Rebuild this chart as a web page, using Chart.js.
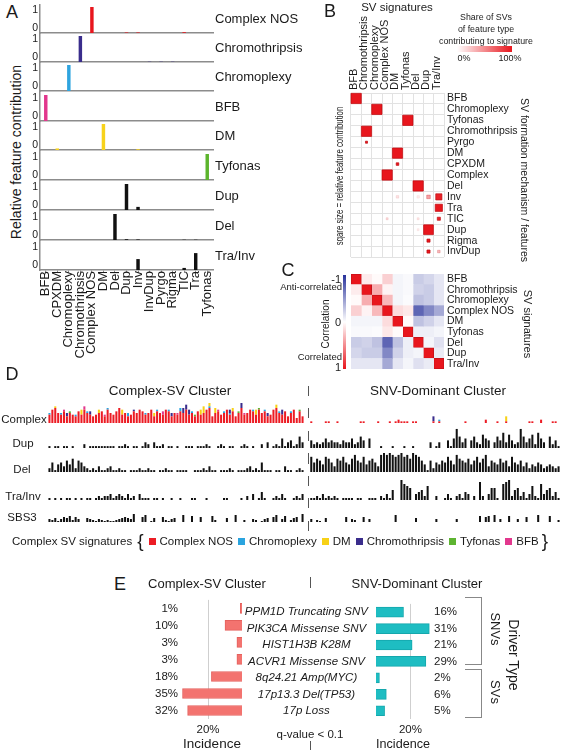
<!DOCTYPE html>
<html lang="en">
<head>
<meta charset="UTF-8">
<title>SV signatures and driver incidence</title>
<style>
  body {
    margin: 0;
    width: 563px;
    height: 750px;
    overflow: hidden;
    position: relative;
    background: #fff;
    color: #1a1a1a;
    font-family: "Liberation Sans", Arial, sans-serif;
  }
  canvas, .t, .box { position: absolute; }
  .t { white-space: nowrap; line-height: 1; z-index: 2; }
  .legend {
    position: absolute;
    display: flex;
    align-items: center;
    font-size: 11.5px;
    white-space: nowrap;
  }
  .legend .sq { width: 7px; height: 7px; display: inline-block; margin: 0 4px 0 5px; }
</style>
</head>
<body>
<script src="https://cdn.jsdelivr.net/npm/chart.js"></script>
<script>
// ---------- panel A: relative feature contribution ----------
var catsA = ['BFB', 'CPXDM', 'Chromoplexy', 'Chromothripsis', 'Complex NOS', 'DM', 'Del', 'Dup',
             'Inv', 'InvDup', 'Pyrgo', 'Rigma', 'TIC', 'Tra', 'Tyfonas'];
var rowsA = ['Complex NOS', 'Chromothripsis', 'Chromoplexy', 'BFB', 'DM', 'Tyfonas', 'Dup', 'Del', 'Tra/Inv'];
var aComplexNOS    = [0, 0, 0, 0, 1, 0, 0, 0.02, 0.02, 0, 0, 0, 0.03, 0, 0];
var aChromothripsis = [0, 0, 0, 1, 0, 0, 0, 0, 0, 0.01, 0.01, 0.01, 0, 0, 0];
var aChromoplexy   = [0, 0, 1, 0, 0, 0, 0, 0, 0, 0, 0, 0, 0, 0, 0];
var aBFB           = [1, 0, 0, 0, 0, 0, 0, 0, 0, 0, 0, 0, 0, 0, 0];
var aDM            = [0, 0.06, 0, 0, 0, 1, 0, 0, 0.03, 0, 0, 0, 0, 0, 0];
var aTyfonas       = [0, 0, 0, 0, 0, 0, 0, 0, 0, 0, 0, 0, 0, 0, 1];
var aDup           = [0, 0, 0, 0, 0, 0, 0, 1, 0.12, 0, 0, 0, 0, 0, 0];
var aDel           = [0, 0, 0, 0, 0, 0, 1, 0.03, 0.02, 0, 0, 0, 0.01, 0.01, 0];
var aTraInv        = [0, 0, 0, 0, 0, 0, 0, 0, 0.42, 0, 0, 0, 0.08, 0.65, 0];
// where the "0" and "1" tick labels sit on each small axis
var aTickValues = [0.22, 0.92];
var aTickLabels = ['0', '1'];

// ---------- panel B: signature definitions ----------
var bCols = ['BFB', 'Chromothripsis', 'Chromoplexy', 'Complex NOS', 'DM', 'Tyfonas', 'Del', 'Dup', 'Tra/Inv'];
var bRows = ['BFB', 'Chromoplexy', 'Tyfonas', 'Chromothripsis', 'Pyrgo', 'DM', 'CPXDM', 'Complex',
             'Del', 'Inv', 'Tra', 'TIC', 'Dup', 'Rigma', 'InvDup'];
// square size = relative feature contribution
var bSize = [
  [1, 0, 0, 0, 0, 0, 0, 0, 0],
  [0, 0, 1, 0, 0, 0, 0, 0, 0],
  [0, 0, 0, 0, 0, 1, 0, 0, 0],
  [0, 1, 0, 0, 0, 0, 0, 0, 0],
  [0, 0.2, 0, 0, 0, 0, 0, 0, 0],
  [0, 0, 0, 0, 1, 0, 0, 0, 0],
  [0, 0, 0, 0, 0.25, 0, 0, 0, 0],
  [0, 0, 0, 1, 0, 0, 0, 0, 0],
  [0, 0, 0, 0, 0, 0, 1, 0, 0],
  [0, 0, 0, 0, 0.25, 0, 0.25, 0.35, 0.6],
  [0, 0, 0, 0, 0, 0, 0, 0, 0.7],
  [0, 0, 0, 0.2, 0, 0, 0.2, 0, 0.3],
  [0, 0, 0, 0, 0, 0, 0.2, 0.95, 0],
  [0, 0, 0, 0, 0, 0, 0, 0.3, 0],
  [0, 0, 0, 0, 0, 0, 0, 0.3, 0.25]
];
// share of SVs of feature type contributing to signature
var bShare = [
  [1, 0, 0, 0, 0, 0, 0, 0, 0],
  [0, 0, 1, 0, 0, 0, 0, 0, 0],
  [0, 0, 0, 0, 0, 1, 0, 0, 0],
  [0, 1, 0, 0, 0, 0, 0, 0, 0],
  [0, 1, 0, 0, 0, 0, 0, 0, 0],
  [0, 0, 0, 0, 1, 0, 0, 0, 0],
  [0, 0, 0, 0, 1, 0, 0, 0, 0],
  [0, 0, 0, 1, 0, 0, 0, 0, 0],
  [0, 0, 0, 0, 0, 0, 1, 0, 0],
  [0, 0, 0, 0, 0.12, 0, 0.08, 0.4, 0.95],
  [0, 0, 0, 0, 0, 0, 0, 0, 1],
  [0, 0, 0, 0.15, 0, 0, 0.1, 0, 0.95],
  [0, 0, 0, 0, 0, 0, 0.08, 1, 0],
  [0, 0, 0, 0, 0, 0, 0, 1, 0],
  [0, 0, 0, 0, 0, 0, 0, 1, 0.3]
];

// ---------- panel C: signature correlation ----------
var cSigs = ['BFB', 'Chromothripsis', 'Chromoplexy', 'Complex NOS', 'DM', 'Tyfonas', 'Del', 'Dup', 'Tra/Inv'];
var cCorr = [
  [1, 0.08, 0.02, 0.2, -0.05, -0.03, -0.25, -0.2, -0.12],
  [0.08, 1, 0.35, 0.05, -0.05, -0.03, -0.22, -0.25, -0.12],
  [0.02, 0.35, 1, 0.3, -0.05, -0.02, -0.3, -0.25, -0.12],
  [0.2, 0.05, 0.3, 1, 0.15, 0.1, -0.75, -0.58, -0.42],
  [-0.05, -0.05, -0.05, 0.15, 1, 0.02, -0.3, -0.22, -0.12],
  [-0.03, -0.03, -0.02, 0.1, 0.02, 1, -0.08, -0.08, -0.05],
  [-0.25, -0.22, -0.3, -0.75, -0.3, -0.08, 1, -0.05, -0.15],
  [-0.2, -0.25, -0.25, -0.58, -0.22, -0.08, -0.05, 1, -0.1],
  [-0.12, -0.12, -0.12, -0.42, -0.12, -0.05, -0.15, -0.1, 1]
];

// ---------- panel D: per-sample exposures (0-10), two clusters ----------
var dCxRedCSV = [5,8,9,6,5,7,4,6,5,4, 7,5,8,6,5,4,5,6,7,4, 8,6,5,7,9,5,6,4,5,7, 6,8,7,5,6,8,4,7,6,5,
                 8,7,4,6,5,7,6,8,5,6, 4,7,5,6,8,9,4,6,7,5, 6,8,5,7,4,6,9,5,6,8, 7,5,8,6,7,4,5,8,9,6,
                 5,7,4,6,8,3,7,4];
// [sample index, exposure] for the smaller complex signatures
var dCxChromoplexyCSV = [[0,1],[4,1],[9,1],[13,1],[20,1],[27,2],[33,1],[37,1],[41,1],[45,2],[49,1],[55,1],
                         [60,1],[62,1],[70,1],[74,1],[79,1],[83,1]];
var dCxDMCSV = [[2,1],[11,3],[17,2],[25,3],[36,2],[52,3],[53,4],[55,3],[57,3],[63,2],[71,3],[78,2]];
var dCxChromothripsisCSV = [[6,2],[14,2],[29,1],[42,2],[46,3],[47,3],[48,3],[62,2],[66,3],[75,2],[80,3]];
var dCxTyfonasCSV = [[7,1],[50,1],[65,1],[72,1],[86,1]];
var dCxBFBCSV = [[5,1],[12,2],[19,1],[39,2],[44,1],[58,1],[67,1]];
var dCxRedSNV = [[0,1],[5,1],[6,1],[9,1],[17,1],[18,1],[23,1],[27,1],[29,1],[30,2],[31,1],[32,1],[33,1],
                 [35,1],[36,1],[42,1],[44,1],[53,1],[60,2],[64,1],[67,1],[75,1],[76,1],[79,2],[83,1],[84,1]];
var dCxChromoplexySNV = [[44,1]];
var dCxDMSNV = [[67,3]];
var dCxChromothripsisSNV = [[42,3]];

var dDupCSV = [1,0,1,1,0,1,1,0,1,0, 0,0,2,0,1,1,1,1,1,1, 1,1,1,0,1,1,2,1,0,1, 1,0,1,3,2,0,3,1,1,2,
               0,1,1,0,1,0,0,1,1,1, 0,1,1,1,2,1,0,0,1,2, 1,0,1,1,0,0,1,2,1,0, 1,0,0,2,0,3,0,1,2,1,
               5,1,3,4,1,2,6,3];
var dDupSNV = [4,2,3,2,3,5,3,4,3,3, 2,4,3,3,5,2,3,6,4,0, 5,0,0,0,1,0,0,0,1,0, 0,0,1,0,0,1,0,0,0,0,
               0,3,0,1,3,0,0,4,1,5, 10,6,3,5,0,4,6,3,2,7, 5,4,0,3,6,4,8,3,7,4, 2,3,10,6,3,5,7,2,8,5,
               3,0,6,2,4,1];
var dDelCSV = [2,5,1,4,5,3,6,4,7,2, 6,5,3,2,1,2,1,3,1,1, 2,3,1,1,2,1,1,0,1,1, 1,2,1,1,2,1,1,0,1,1,
               2,1,1,0,1,1,1,1,0,0, 1,1,1,2,1,3,1,1,0,1, 1,1,2,1,0,1,1,1,2,3, 1,2,1,5,1,1,1,0,1,1,
               0,3,1,1,0,1,2,1];
var dDelSNV = [8,5,7,6,4,8,7,5,3,7, 6,8,5,4,7,9,6,5,8,4, 6,7,5,3,9,10,9,10,9,8, 9,10,8,9,7,10,9,8,6,4,
               1,6,2,5,4,6,5,8,6,4, 9,7,6,5,7,4,6,8,5,7, 9,3,6,5,4,7,5,6,3,8, 5,4,6,3,5,2,4,3,5,4,
               2,3,4,3,2,3];
var dTraInvCSV = [1,0,1,0,1,0,1,1,0,1, 0,1,0,1,1,0,1,2,1,2, 2,3,1,2,3,2,1,3,1,2, 0,3,1,1,1,0,1,1,0,1,
                  0,0,1,0,0,1,0,0,0,1, 1,0,0,0,1,0,0,0,0,0, 1,1,0,0,0,0,1,0,2,0, 3,0,1,4,1,0,0,1,2,1,
                  3,1,0,0,1,2,1,3];
var dTraInvSNV = [1,1,2,1,3,1,2,1,2,1, 0,1,1,1,1,0,1,1,0,0, 1,1,1,0,2,1,3,1,5,0, 0,10,8,7,6,0,3,4,5,2,
                  7,0,0,2,0,0,1,3,1,0, 2,3,1,4,3,0,2,0,9,2, 0,3,6,6,1,0,8,9,10,2, 5,6,2,4,1,3,7,2,1,8,
                  3,5,6,2,4,1];
var dSBS3CSV = [3,2,4,1,3,5,4,6,2,5, 3,0,0,4,3,2,1,3,2,1, 2,1,1,2,3,4,5,4,3,8, 0,0,5,7,0,1,4,0,0,5,
                2,1,3,4,0,0,7,0,0,6, 0,0,5,0,0,0,6,2,0,0, 0,4,0,0,7,0,0,2,0,0, 3,2,0,1,3,4,0,5,7,0,
                3,6,0,2,4,5,0,8];
var dSBS3SNV = [3,0,2,1,0,4,0,0,0,0, 0,0,5,0,3,2,0,0,5,0, 3,0,0,0,0,0,0,0,0,7, 0,0,0,0,0,0,4,0,0,0,
                0,0,0,3,0,0,0,0,0,0, 3,0,0,0,0,0,0,0,6,0, 5,6,0,7,0,3,0,0,6,0, 0,3,0,0,5,0,0,0,7,0,
                0,0,6,0,0,2];

// ---------- panel E: driver incidence ----------
var eDrivers = ['PPM1D Truncating SNV', 'PIK3CA Missense SNV', 'HIST1H3B K28M', 'ACVR1 Missense SNV',
                '8q24.21 Amp(MYC)', '17p13.3 Del(TP53)', '17p Loss'];
var eComplexSV = [1, 10, 3, 3, 18, 35, 32];
var eSNVDominant = [16, 31, 21, 29, 2, 6, 5];

// ---------- helpers ----------
Chart.defaults.font.family = '"Liberation Sans", Arial, sans-serif';
Chart.defaults.color = '#1a1a1a';
Chart.defaults.animation = false;
Chart.defaults.responsive = false;
Chart.defaults.plugins.legend.display = false;
Chart.defaults.plugins.tooltip.enabled = false;

function makeCanvas(x, y, w, h) {
  var c = document.createElement('canvas');
  c.width = w; c.height = h;
  c.style.left = x + 'px'; c.style.top = y + 'px';
  c.style.width = w + 'px'; c.style.height = h + 'px';
  document.body.appendChild(c);
  return c;
}

function txt(s, x, y, size, o) {
  o = o || {};
  var d = document.createElement('div');
  d.className = 't';
  d.textContent = s;
  d.style.left = x + 'px';
  d.style.top = y + 'px';
  d.style.fontSize = size + 'px';
  if (o.italic) d.style.fontStyle = 'italic';
  var ax = o.align === 'left' ? '0' : (o.align === 'right' ? '-100%' : '-50%');
  d.style.transform = 'translate(' + ax + ',-50%)' + (o.rot ? ' rotate(' + o.rot + 'deg)' : '') +
                      (o.sx ? ' scaleX(' + o.sx + ')' : '');
  document.body.appendChild(d);
  return d;
}

function box(x, y, w, h, css) {
  var d = document.createElement('div');
  d.className = 'box';
  d.style.left = x + 'px'; d.style.top = y + 'px';
  d.style.width = w + 'px'; d.style.height = h + 'px';
  for (var k in css) d.style[k] = css[k];
  document.body.appendChild(d);
  return d;
}

function dense(pairs, n) {
  var out = [];
  for (var i = 0; i < n; i++) out.push(0);
  pairs.forEach(function (p) { out[p[0]] = p[1]; });
  return out;
}

// keep the plot area exactly where the axes say, no label overhang padding
function noPad(s) { s.paddingTop = 0; s.paddingBottom = 0; s.paddingLeft = 0; s.paddingRight = 0; }

// ================= PANEL A =================
var valsA = [aComplexNOS, aChromothripsis, aChromoplexy, aBFB, aDM, aTyfonas, aDup, aDel, aTraInv];
var colA = ['#e8161d', '#3a2d8c', '#2ea4df', '#e2378d', '#f7d21b', '#5cb52d', '#111', '#111', '#111'];
var baseA = [33, 62, 91, 121, 150, 180, 210, 240, 270];
var unitA = 26; // px for a contribution of 1
var axisGray = '#8c8c8c';

txt('A', 12, 12, 18);
txt('Relative feature contribution', 16, 152, 14, { rot: -90 });

rowsA.forEach(function (name, i) {
  var top = i === 0 ? 4 : baseA[i - 1];
  var h = baseA[i] - top;
  var last = i === rowsA.length - 1;
  var extra = last ? 100 : 2;
  var cv = makeCanvas(28, top, 186, h + extra);
  new Chart(cv, {
    type: 'bar',
    data: {
      labels: catsA,
      datasets: [{ data: valsA[i], backgroundColor: colA[i], barPercentage: 0.3, categoryPercentage: 1 }]
    },
    options: {
      layout: { padding: { right: 1 } },
      scales: {
        x: {
          grid: { display: last, drawOnChartArea: false, offset: false, tickLength: 3, color: axisGray },
          border: { display: true, color: axisGray, width: 1.5 },
          ticks: { display: last, minRotation: 90, maxRotation: 90, autoSkip: false,
                   font: { size: 13 }, padding: -2 },
          afterFit: function (s) { s.height = extra; noPad(s); }
        },
        y: {
          min: 0, max: h / unitA,
          grid: { display: false, drawTicks: false },
          border: { display: true, color: axisGray, width: 1.5 },
          ticks: { display: false },
          afterFit: function (s) { s.width = 12; noPad(s); }
        }
      }
    }
  });
  aTickValues.forEach(function (v, k) {
    txt(aTickLabels[k], 38, baseA[i] - v * unitA, 10.5, { align: 'right' });
  });
  txt(name, 215, baseA[i] - 15.5, 13, { align: 'left' });
});

// ================= PANEL B =================
txt('B', 330, 11, 18);
txt('SV signatures', 397, 8, 11.5);
txt('Share of SVs', 486, 17, 8.8);
txt('of feature type', 486, 29, 8.8);
txt('contributing to signature', 486, 41, 8.8);
box(457, 46, 55, 6, { background: 'linear-gradient(to right, #fff, #e8161d)' });
txt('0%', 464, 58, 9);
txt('100%', 510, 58, 9);
txt('sqare size = relative feature contribution', 340, 176, 10, { rot: -90, sx: 0.78 });
txt('SV formation mechanism / features', 525, 180, 10.5, { rot: 90 });

var bPoints = [], bFill = [], bLine = [];
bRows.forEach(function (r, i) {
  bCols.forEach(function (c, j) {
    if (bSize[i][j] > 0) {
      bPoints.push({ x: c, y: r, r: bSize[i][j] * 10.3 / Math.SQRT2 });
      bFill.push('rgba(232,22,29,' + bShare[i][j] + ')');
      bLine.push('rgba(190,10,15,' + bShare[i][j] + ')');
    }
  });
});

// chart area spans x 351..444, y 93..265
new Chart(makeCanvas(343, 0, 178, 265), {
  type: 'bubble',
  data: {
    datasets: [{ data: bPoints, backgroundColor: bFill, borderColor: bLine, borderWidth: 0.7,
                 pointStyle: 'rect' }]
  },
  options: {
    layout: { padding: { left: 8 } },
    scales: {
      x: {
        type: 'category', labels: bCols, position: 'top', offset: true,
        grid: { offset: true, color: '#e2e2e2', drawTicks: false },
        border: { display: false },
        ticks: { minRotation: 90, maxRotation: 90, autoSkip: false, font: { size: 11 }, padding: 3,
                 labelOffset: 11 },
        afterFit: function (s) { s.height = 93; noPad(s); }
      },
      y: {
        type: 'category', labels: bRows, position: 'right', offset: true,
        grid: { offset: true, color: '#e2e2e2', drawTicks: false },
        border: { display: false },
        ticks: { autoSkip: false, font: { size: 10.5 }, padding: 3 },
        afterFit: function (s) { s.width = 77; noPad(s); }
      }
    }
  }
});

// ================= PANEL C =================
txt('C', 288, 270, 18);
txt('-1', 341, 279, 11, { align: 'right' });
txt('Anti-correlated', 342, 287, 9.5, { align: 'right' });
txt('0', 341, 322, 11, { align: 'right' });
txt('Correlation', 326, 324, 10, { rot: -90 });
txt('Correlated', 342, 357, 9.5, { align: 'right' });
txt('1', 341, 367, 11, { align: 'right' });
box(343, 275, 3, 94, { background: 'linear-gradient(to bottom, #28329b, #fff 50%, #e8161d)' });
txt('SV signatures', 527, 324, 11, { rot: 90 });

function corrColor(v) {
  var t = Math.min(1, Math.abs(v));
  var end = v >= 0 ? [232, 22, 29] : [40, 50, 155];
  var rgb = end.map(function (e) { return Math.round(255 - (255 - e) * t); });
  return 'rgb(' + rgb.join(',') + ')';
}

// chart area spans x 351..444, y 274..369
new Chart(makeCanvas(351, 274, 170, 95), {
  type: 'bar',
  data: {
    labels: cSigs,
    datasets: cSigs.map(function (col, j) {
      return {
        data: cSigs.map(function () { return 1; }),
        backgroundColor: cSigs.map(function (row, i) { return corrColor(cCorr[i][j]); }),
        borderColor: '#c8121a',
        borderWidth: cSigs.map(function (row, i) { return i === j ? 1 : 0; }),
        borderSkipped: false,
        barPercentage: 1, categoryPercentage: 1
      };
    })
  },
  options: {
    indexAxis: 'y',
    layout: { padding: 0 },
    scales: {
      x: { stacked: true, display: false, min: 0, max: cSigs.length },
      y: {
        stacked: true, position: 'right',
        grid: { display: false, drawTicks: false }, border: { display: false },
        ticks: { autoSkip: false, font: { size: 10.5 }, padding: 3 },
        afterFit: function (s) { s.width = 77; noPad(s); }
      }
    }
  }
});

// ================= PANEL D =================
txt('D', 12, 374, 18);
txt('Complex-SV Cluster', 170, 391, 13.5);
txt('SNV-Dominant Cluster', 438, 391, 13.5);

var nCSV = dCxRedCSV.length, nSNV = dDupSNV.length;
var gap = [null, null];
function joinClusters(a, b) { return a.concat(gap, b); }
var dIdx = joinClusters(dCxRedCSV, dDupSNV).map(function (v, i) { return i; });

var sigColors = { red: '#ec1c24', chromoplexy: '#2aa4df', dm: '#f7d117',
                  chromothripsis: '#3a2d8c', tyfonas: '#5db431', bfb: '#e2378d' };

function stripChart(top, h, max, datasets) {
  new Chart(makeCanvas(48, top, 512, h), {
    type: 'bar',
    data: { labels: dIdx, datasets: datasets.map(function (d) {
      return { data: d.data, backgroundColor: d.color, barPercentage: 0.7, categoryPercentage: 1, borderWidth: 0 };
    }) },
    options: {
      layout: { padding: 0 },
      scales: {
        x: { display: false, stacked: true },
        y: { display: false, stacked: true, min: 0, max: max }
      }
    }
  });
}

stripChart(403, 20, 12, [
  { data: joinClusters(dCxRedCSV, dense(dCxRedSNV, nSNV)), color: sigColors.red },
  { data: joinClusters(dense(dCxChromoplexyCSV, nCSV), dense(dCxChromoplexySNV, nSNV)), color: sigColors.chromoplexy },
  { data: joinClusters(dense(dCxDMCSV, nCSV), dense(dCxDMSNV, nSNV)), color: sigColors.dm },
  { data: joinClusters(dense(dCxChromothripsisCSV, nCSV), dense(dCxChromothripsisSNV, nSNV)), color: sigColors.chromothripsis },
  { data: joinClusters(dense(dCxTyfonasCSV, nCSV), dense([], nSNV)), color: sigColors.tyfonas },
  { data: joinClusters(dense(dCxBFBCSV, nCSV), dense([], nSNV)), color: sigColors.bfb }
]);
stripChart(428, 20, 10.5, [{ data: joinClusters(dDupCSV, dDupSNV), color: '#111' }]);
stripChart(453, 19, 10, [{ data: joinClusters(dDelCSV, dDelSNV), color: '#111' }]);
stripChart(480, 20, 10, [{ data: joinClusters(dTraInvCSV, dTraInvSNV), color: '#111' }]);
stripChart(512, 10, 10, [{ data: joinClusters(dSBS3CSV, dSBS3SNV), color: '#111' }]);

txt('Complex', 24, 420, 11.5);
txt('Dup', 23, 444, 11.5);
txt('Del', 22, 470, 11.5);
txt('Tra/Inv', 23, 497, 11.5);
txt('SBS3', 22, 518, 11.5);

box(307.5, 386, 1.5, 150, { background: 'repeating-linear-gradient(to bottom, #555 0 10px, transparent 10px 22.5px)' });

var lg = document.createElement('div');
lg.className = 'legend';
lg.style.left = '12px';
lg.style.top = '534px';
lg.innerHTML = '<span>Complex SV signatures</span><span style="font-size:19px;margin:0 0 0 5px;line-height:14px">{</span>' +
  [['Complex NOS', sigColors.red], ['Chromoplexy', sigColors.chromoplexy], ['DM', sigColors.dm],
   ['Chromothripsis', sigColors.chromothripsis], ['Tyfonas', sigColors.tyfonas], ['BFB', sigColors.bfb]]
  .map(function (p) { return '<span class="sq" style="background:' + p[1] + '"></span><span>' + p[0] + '</span>'; }).join('') +
  '<span style="font-size:19px;margin-left:3px;line-height:14px">}</span>';
document.body.appendChild(lg);

// ================= PANEL E =================
txt('E', 120, 584, 18);
txt('Complex-SV Cluster', 207, 583, 13);
txt('SNV-Dominant Cluster', 417, 583, 13);
txt('q-value < 0.1', 310, 735, 11.5);
box(309.5, 577, 1.5, 11, { background: '#555' });
box(309.5, 741, 1.5, 11, { background: '#555' });

var incidenceAxis = function (max, reverse) {
  return {
    min: 0, max: max, reverse: reverse,
    afterBuildTicks: function (s) { s.ticks = [{ value: 20 }]; },
    grid: { color: '#cfcfcf', drawTicks: false },
    border: { display: false },
    ticks: { callback: function (v) { return v + '%'; }, font: { size: 11.5 }, padding: 4 },
    title: { display: true, text: 'Incidence', font: { size: 13.5 }, padding: { top: 1, bottom: 0 } },
    afterFit: function (s) { s.height = 33; }
  };
};

new Chart(makeCanvas(136, 589, 106, 163), {
  type: 'bar',
  data: { labels: eDrivers, datasets: [{ data: eComplexSV, backgroundColor: '#f3736f', borderColor: '#e4615d',
                                         borderWidth: 1, barThickness: 10 }] },
  options: {
    indexAxis: 'y',
    layout: { padding: 0 },
    scales: {
      x: incidenceAxis(35.3, true),
      y: {
        grid: { display: false, drawTicks: false }, border: { display: false },
        ticks: { autoSkip: false, callback: function (v, i) { return eComplexSV[i] + '%'; },
                 font: { size: 11.5 }, padding: 4 },
        afterFit: function (s) { s.width = 46; }
      }
    }
  }
});

new Chart(makeCanvas(243, 589, 227, 163), {
  type: 'bar',
  data: { labels: eDrivers, datasets: [{ data: eSNVDominant, backgroundColor: '#1ebdc2', borderColor: '#15a7ac',
                                         borderWidth: 1, barThickness: 10 }] },
  options: {
    indexAxis: 'y',
    layout: { padding: 0 },
    scales: {
      x: incidenceAxis(31.4, false),
      y: {
        grid: { display: false, drawTicks: false }, border: { display: false },
        ticks: { autoSkip: false, font: { size: 11.5, style: 'italic' }, padding: 8, crossAlign: 'center' },
        afterFit: function (s) { s.width = 133; }
      },
      y2: {
        type: 'category', labels: eSNVDominant.map(function (v) { return v + '%'; }),
        position: 'right', offset: true,
        grid: { display: false, drawTicks: false }, border: { display: false },
        ticks: { autoSkip: false, font: { size: 11.5 }, padding: 4 },
        afterFit: function (s) { s.width = 40; }
      }
    }
  }
});

box(465, 597, 16, 66, { borderTop: '1.5px solid #888', borderRight: '1.5px solid #888', borderBottom: '1.5px solid #888' });
box(465, 669, 16, 47, { borderTop: '1.5px solid #888', borderRight: '1.5px solid #888', borderBottom: '1.5px solid #888' });
txt('SNVs', 495, 629, 13, { rot: 90 });
txt('SVs', 495, 692, 13, { rot: 90 });
txt('Driver Type', 514, 655, 14, { rot: 90 });
</script>
</body>
</html>
